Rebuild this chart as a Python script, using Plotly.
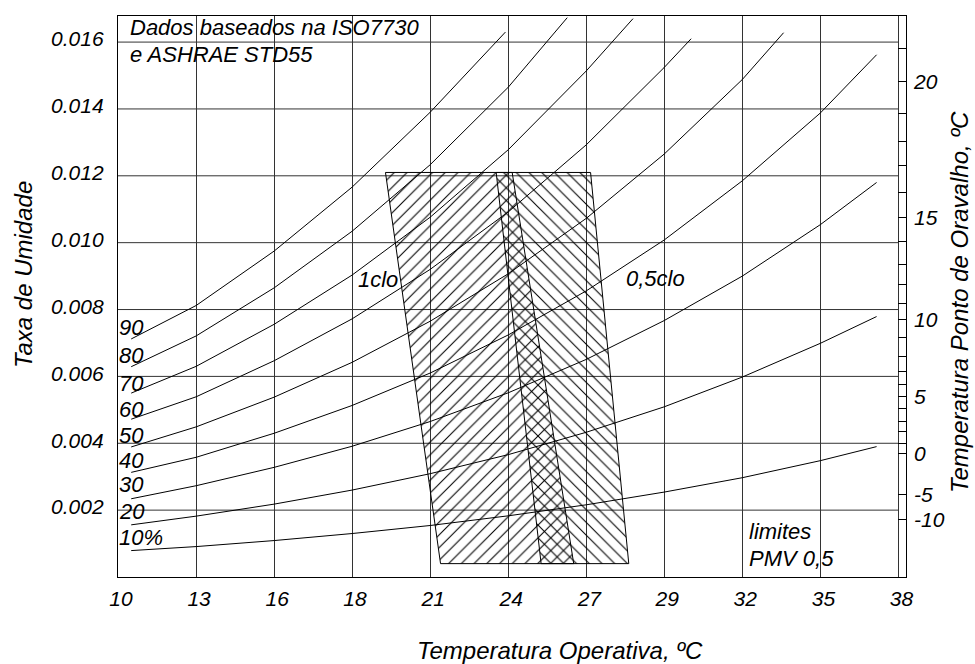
import plotly.graph_objects as go

# ---------------- data ----------------
# x axis: operative temperature in deg C (axis is evenly spaced in deg F steps)
temp_tick_vals = [10.0, 12.78, 15.56, 18.33, 21.11, 23.89, 26.67, 29.44, 32.22, 35.0, 37.78]
temp_tick_text = ["10", "13", "16", "18", "21", "24", "27", "29", "32", "35", "38"]

# left axis: humidity ratio
hum_tick_vals = [0.002, 0.004, 0.006, 0.008, 0.010, 0.012, 0.014, 0.016]
hum_tick_text = ["0.002", "0.004", "0.006", "0.008", "0.010", "0.012", "0.014", "0.016"]

# right axis: dew point temperature (positions expressed as humidity ratio)
dew_tick_vals = [0.01481, 0.01076, 0.00769, 0.00540, 0.00370, 0.00246, 0.00171]
dew_tick_text = ["20", "15", "10", "5", "0", "-5", "-10"]
dew_minor_vals = [0.01580, 0.01385, 0.01303, 0.01231, 0.01149, 0.01004, 0.00934,
                  0.00874, 0.00819, 0.00715, 0.00660, 0.00615, 0.00575, 0.00505,
                  0.00465, 0.00435, 0.00400]

# relative humidity curves
t_rh90 = [10.47, 12.78, 15.56, 18.33, 21.11, 23.79]
w_rh90 = [0.00712, 0.00812, 0.00975, 0.01166, 0.01390, 0.01630]
t_rh80 = [10.47, 12.78, 15.56, 18.33, 21.11, 23.89, 25.99]
w_rh80 = [0.00629, 0.00721, 0.00865, 0.01034, 0.01233, 0.01465, 0.01673]
t_rh70 = [10.47, 12.78, 15.56, 18.33, 21.11, 23.89, 26.67, 28.33]
w_rh70 = [0.00550, 0.00630, 0.00756, 0.00903, 0.01076, 0.01278, 0.01514, 0.01670]
t_rh60 = [10.47, 12.78, 15.56, 18.33, 21.11, 23.89, 26.67, 29.44, 30.40]
w_rh60 = [0.00472, 0.00539, 0.00647, 0.00772, 0.00920, 0.01092, 0.01293, 0.01524, 0.01610]
t_rh50 = [10.47, 12.78, 15.56, 18.33, 21.11, 23.89, 26.67, 29.44, 32.22, 33.69]
w_rh50 = [0.00389, 0.00449, 0.00538, 0.00642, 0.00765, 0.00907, 0.01073, 0.01265, 0.01488, 0.01628]
t_rh40 = [10.47, 12.78, 15.56, 18.33, 21.11, 23.89, 26.67, 29.44, 32.22, 35.0, 37.0]
w_rh40 = [0.00313, 0.00358, 0.00430, 0.00513, 0.00610, 0.00724, 0.00856, 0.01008, 0.01185, 0.01388, 0.01562]
t_rh30 = [10.47, 12.78, 15.56, 18.33, 21.11, 23.89, 26.67, 29.44, 32.22, 35.0, 37.0]
w_rh30 = [0.00234, 0.00273, 0.00328, 0.00391, 0.00465, 0.00551, 0.00651, 0.00767, 0.00900, 0.01054, 0.01180]
t_rh20 = [10.47, 12.78, 15.56, 18.33, 21.11, 23.89, 26.67, 29.44, 32.22, 35.0, 37.0]
w_rh20 = [0.00156, 0.00182, 0.00218, 0.00260, 0.00309, 0.00366, 0.00433, 0.00509, 0.00598, 0.00699, 0.00779]
t_rh10 = [10.47, 12.78, 15.56, 18.33, 21.11, 23.89, 26.67, 29.44, 32.22, 35.0, 37.0]
w_rh10 = [0.00079, 0.00091, 0.00109, 0.00130, 0.00154, 0.00183, 0.00216, 0.00254, 0.00297, 0.00348, 0.00390]

rh_labels = ["90", "80", "70", "60", "50", "40", "30", "20", "10%"]

# comfort zones (PMV +/-0.5)
clo1_t = [19.52, 24.03, 26.22, 21.48]
clo1_w = [0.0121, 0.0121, 0.0004, 0.0004]
clo05_t = [23.46, 26.82, 28.18, 25.06]
clo05_w = [0.0121, 0.0121, 0.0004, 0.0004]

# ---------------- figure ----------------
W, H = 975, 664
ML, MR, MT, MB = 118, 69, 16, 87
PW, PH = W - ML - MR, H - MT - MB
X_RANGE = [10, 38.047]
Y_RANGE = [0, 0.01678]

FONT = "Liberation Sans, Arial, sans-serif"
INK = "black"
GRID = "#333333"


def paper(px, py):
    return (px - ML) / PW, (H - MB - py) / PH


fig = go.Figure()

curves = [(t_rh90, w_rh90), (t_rh80, w_rh80), (t_rh70, w_rh70), (t_rh60, w_rh60),
          (t_rh50, w_rh50), (t_rh40, w_rh40), (t_rh30, w_rh30), (t_rh20, w_rh20),
          (t_rh10, w_rh10)]
for (tt, ww), lab in zip(curves, rh_labels):
    fig.add_trace(go.Scatter(x=tt, y=ww, mode="lines", name=lab,
                             line=dict(color=INK, width=1), hoverinfo="skip",
                             showlegend=False))

for tt, ww, shp in [(clo1_t, clo1_w, "/"), (clo05_t, clo05_w, "\\")]:
    fig.add_trace(go.Scatter(
        x=tt + tt[:1], y=ww + ww[:1], mode="lines", fill="toself",
        fillcolor="rgba(255,255,255,0)",
        fillpattern=dict(shape=shp, fgcolor=INK, fgopacity=1,
                         bgcolor="rgba(255,255,255,0)", fillmode="replace",
                         size=9, solidity=0.12),
        line=dict(color=INK, width=1), hoverinfo="skip", showlegend=False))

# dummy trace so the right axis is drawn
fig.add_trace(go.Scatter(x=[None], y=[None], yaxis="y2", showlegend=False,
                         hoverinfo="skip"))

# horizontal grid lines (stop at the 38 line; right strip holds dew point ticks)
for v in hum_tick_vals:
    fig.add_shape(type="line", xref="x", yref="y", x0=temp_tick_vals[0],
                  x1=temp_tick_vals[-1], y0=v, y1=v, layer="below",
                  line=dict(color=GRID, width=1))

tick_font = dict(family=FONT, size=21, color=INK, style="italic")
fig.update_layout(
    width=W, height=H,
    margin=dict(l=ML, r=MR, t=MT, b=MB, pad=0),
    paper_bgcolor="white", plot_bgcolor="white",
    xaxis=dict(range=X_RANGE, tickmode="array", tickvals=temp_tick_vals,
               ticktext=temp_tick_text, showgrid=True, gridcolor=GRID, gridwidth=1,
               showline=True, mirror=True, linecolor=INK, linewidth=1.3,
               ticks="", tickfont=tick_font, ticklabelstandoff=3,
               ticklabelshift=3, zeroline=False, fixedrange=True),
    yaxis=dict(range=Y_RANGE, tickmode="array", tickvals=hum_tick_vals,
               ticktext=hum_tick_text, showgrid=False, showline=True, mirror=True,
               linecolor=INK, linewidth=1.3, ticks="", tickfont=tick_font,
               ticklabelstandoff=9, ticklabelshift=-3, zeroline=False,
               fixedrange=True),
    yaxis2=dict(range=Y_RANGE, overlaying="y", side="right", tickmode="array",
                tickvals=dew_tick_vals, ticktext=dew_tick_text, showgrid=False,
                showline=False, ticks="inside", ticklen=8, tickcolor=INK,
                tickwidth=1, tickfont=tick_font, ticklabelstandoff=7,
                zeroline=False, fixedrange=True,
                minor=dict(tickmode="array", tickvals=dew_minor_vals,
                           ticks="inside", ticklen=8, tickcolor=INK,
                           tickwidth=1, showgrid=False)),
)

ann_font = dict(family=FONT, size=22, color=INK, style="italic")
texts = [
    ("Dados baseados na ISO7730", 129, 27.5),
    ("e ASHRAE STD55", 129, 55),
    ("1clo", 357, 279),
    ("0,5clo", 625, 278),
    ("limites", 748, 531),
    ("PMV 0,5", 748, 558),
]
rh_label_y = [327, 355, 383.7, 409, 435.5, 460, 484.5, 511, 537]
for lab, yy in zip(rh_labels, rh_label_y):
    texts.append((lab, 118, yy))

for txt, px, py in texts:
    ax, ay = paper(px, py)
    fig.add_annotation(text=txt, x=ax, y=ay, xref="paper", yref="paper",
                       xanchor="left", yanchor="middle", showarrow=False,
                       font=ann_font, borderpad=0)

title_font = dict(family=FONT, size=24, color=INK, style="italic")
for txt, px, py, ang in [("Taxa de Umidade", 23, 275, -90),
                         ("Temperatura Operativa, ºC", 560, 650, 0),
                         ("Temperatura Ponto de Oravalho, ºC", 959, 302, -90)]:
    ax, ay = paper(px, py)
    fig.add_annotation(text=txt, x=ax, y=ay, xref="paper", yref="paper",
                       xanchor="center", yanchor="middle", showarrow=False,
                       textangle=ang, font=title_font)

fig.write_html("out.html")
